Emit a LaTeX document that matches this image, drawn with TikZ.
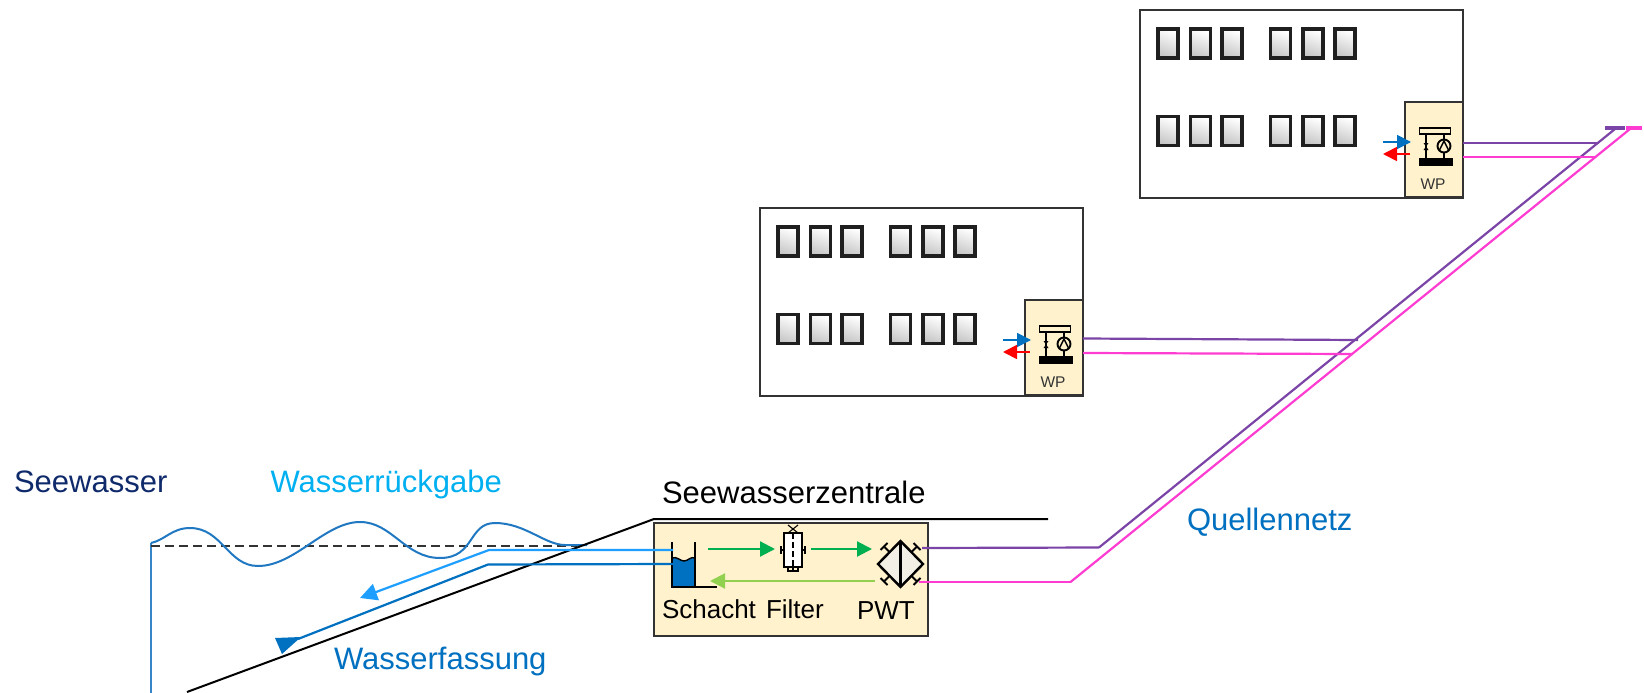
\documentclass[tikz,border=0pt]{standalone}
\usepackage{fontspec}
\setmainfont{Liberation Sans}
\usetikzlibrary{arrows.meta,shapes.geometric}
\definecolor{boxfill}{HTML}{FFF2CC}
\definecolor{edgegray}{HTML}{333333}
\definecolor{wavecol}{HTML}{1F78C1}
\definecolor{lightblue}{HTML}{1E9FFF}
\definecolor{intake}{HTML}{0070C0}
\definecolor{txtreturn}{HTML}{00B0F0}
\definecolor{navy}{HTML}{0F2A6B}
\definecolor{pipeviolet}{HTML}{7B45A8}
\definecolor{pipepink}{HTML}{FF3CD2}
\definecolor{greenA}{HTML}{00B050}
\definecolor{greenB}{HTML}{92D050}
\definecolor{pwtfill}{HTML}{F2EFE6}
\tikzset{
  bigtxt/.style={inner sep=0pt,outer sep=0pt,anchor=west,font=\fontsize{31}{31}\selectfont},
  smalltxt/.style={inner sep=0pt,outer sep=0pt,anchor=west,font=\fontsize{26}{26}\selectfont},
  bldg/.style={draw=edgegray,line width=2pt,fill=white,inner sep=0pt,outer sep=0pt,minimum width=323pt,minimum height=188pt},
  wpbox/.style={draw=edgegray,line width=2pt,fill=boxfill,inner sep=0pt,outer sep=0pt,minimum width=58pt,minimum height=95pt},
  win/.style={draw=black!88,line width=3.2pt,top color=white,bottom color=black!22,shading angle=-20,inner sep=0pt,outer sep=0pt,minimum width=20pt,minimum height=29pt},
  icon/.style={draw=black,line width=1.9pt},
  pipeV/.style={draw=pipeviolet,line width=2.2pt},
  pipeP/.style={draw=pipepink,line width=2.2pt},
  tipA/.style={-{Triangle[length=14pt,width=14pt]}},
  tipG/.style={-{Triangle[length=15pt,width=15pt]}},
}
% one building with its heat pump; #1 name suffix, #2 #3 offset
\newcommand{\housegroup}[3]{%
\begin{scope}[shift={(#2,#3)}]
  \node[bldg] (house#1) at (1301.5,104) {};
  \foreach \wx [count=\wi] in {1168,1200.5,1232,1280.5,1313,1345}{
    \node[win] (wa#1\wi) at (\wx,43.5) {};
    \node[win] (wb#1\wi) at (\wx,131) {};
  }
  \node[wpbox] (wp#1) at (1434,149.5) {};
  \coordinate (bl#1s) at (1383,142); \coordinate (bl#1e) at (1411,142);
  \coordinate (rd#1s) at (1410,154); \coordinate (rd#1e) at (1383,154);
  \draw[draw=intake,line width=1.8pt,tipA] (bl#1s) -- (bl#1e);
  \draw[draw=red,line width=1.8pt,tipA] (rd#1s) -- (rd#1e);
  \node[draw=black,line width=1.9pt,fill=boxfill,inner sep=0pt,outer sep=0pt,minimum width=31pt,minimum height=6pt] (wptop#1) at (1435,131) {};
  \node[fill=black,inner sep=0pt,outer sep=0pt,minimum width=34pt,minimum height=8.5pt] (wpbase#1) at (1435.5,162) {};
  \node[circle,draw=black,line width=1.9pt,inner sep=0pt,outer sep=0pt,minimum size=13pt] (wpcirc#1) at (1444,146) {};
  \draw[icon] (wptop#1.south -| wpcirc#1) -- (wpcirc#1.north);
  \draw[icon] (wpcirc#1.south) -- (wpbase#1.north -| wpcirc#1);
  \draw[draw=black,line width=1.4pt] (1439.5,150) -- (1444,141) -- (1448.5,150);
  \coordinate (vt#1) at (1426,134); \coordinate (vb#1) at (1426,158);
  \draw[icon] (vt#1) -- (vb#1);
  \fill[black] (1423.5,143) -- (1428.5,143) -- (1423.5,150) -- (1428.5,150) -- cycle;
  \node[inner sep=0pt,font=\fontsize{15.5}{15.5}\selectfont,text=black!80] (wplabel#1) at (1433,184) {WP};
\end{scope}}
\begin{document}
\begin{tikzpicture}[x=1pt,y=-1pt]
\useasboundingbox (0,0) rectangle (1644,693);
\fill[white] (0,0) rectangle (1644,693);

% pipes behind houses
\coordinate (vA) at (922,548); \coordinate (vB) at (1099,547.5); \coordinate (vC) at (1615,129);
\coordinate (pA) at (919,582); \coordinate (pB) at (1070.5,582); \coordinate (pC) at (1630,129);
\coordinate (vH) at (1358,340); \coordinate (pH) at (1352,354);
\coordinate (vT) at (1599,143); \coordinate (pT) at (1595,157);
\coordinate (vE1) at (1605,128); \coordinate (vE2) at (1625,128);
\coordinate (pE1) at (1626,128); \coordinate (pE2) at (1642,128);
\draw[pipeV] (vB) -- (vC);
\draw[pipeP] (pB) -- (pC);
\draw[pipeV,line width=4pt] (vE1) -- (vE2);
\draw[pipeP,line width=4pt] (pE1) -- (pE2);

\housegroup{a}{0}{0}
\housegroup{b}{-380}{198}

\coordinate (vaS) at (1463,143); \coordinate (paS) at (1463,157);
\coordinate (vbS) at (1083,338.5); \coordinate (pbS) at (1083,353);
\draw[pipeV] (vaS) -- (vT);
\draw[pipeP] (paS) -- (pT);
\draw[pipeV] (vbS) -- (vH);
\draw[pipeP] (pbS) -- (pH);

% sea
\coordinate (seaTop) at (151,543); \coordinate (seaBot) at (151,693);
\draw[draw=wavecol!90,line width=2pt] (seaTop) -- (seaBot);
\coordinate (dashS) at (151,546); \coordinate (dashE) at (577,546);
\draw[black!80,line width=1.2pt,dash pattern=on 9pt off 5pt] (dashS) -- (dashE);
\draw[wavecol,line width=2pt] (151,543) .. controls (165,540) and (172,528) .. (190,528)
  .. controls (222,528) and (228,566) .. (258,566)
  .. controls (295,566) and (325,522) .. (360,522)
  .. controls (392,522) and (405,558) .. (440,558)
  .. controls (475,558) and (468,523) .. (495,523)
  .. controls (525,523) and (545,545) .. (565,545)
  -- (587,545);

% shore
\coordinate (shoreA) at (187,692); \coordinate (shoreB) at (654,519); \coordinate (shoreC) at (1048,519);
\draw[black,line width=2pt] (shoreA) -- (shoreB) -- (shoreC);

% central station
\node[draw=edgegray,line width=2pt,fill=boxfill,inner sep=0pt,outer sep=0pt,minimum width=274pt,minimum height=113pt] (plant) at (791,579.5) {};

% shaft
\fill[intake] (672,558) .. controls (677,556) and (680,561) .. (684,561) .. controls (688,561) and (691,556) .. (695,558) -- (695,587) -- (672,587) -- cycle;
\coordinate (shL) at (672,542); \coordinate (shBL) at (672,587); \coordinate (shBR) at (717,587);
\coordinate (shR) at (695,542); \coordinate (shM) at (695,587);
\draw[black,line width=1.9pt] (shL) -- (shBL) -- (shBR);
\draw[black,line width=1.9pt] (shR) -- (shM);
\draw[black,line width=1.4pt] (672,558) .. controls (677,556) and (680,561) .. (684,561) .. controls (688,561) and (691,556) .. (695,558);

% intake and return lines
\coordinate (retS) at (673,550); \coordinate (retK) at (489,550); \coordinate (retE) at (360,598);
\draw[draw=lightblue,line width=2.2pt,-{Triangle[length=17pt,width=17pt]}] (retS) -- (retK) -- (retE);
\coordinate (inS) at (673,564); \coordinate (inK) at (488,564.5); \coordinate (inE) at (298,639);
\draw[draw=intake,line width=2.2pt] (inS) -- (inK) -- (inE);
\fill[intake] (275,638) -- (301,637) -- (282,654) -- cycle;

% filter
\node[draw=black,line width=1.1pt,fill=white,inner sep=0pt,outer sep=0pt,minimum width=18pt,minimum height=34pt] (filter) at (793,550) {};
\draw[black,line width=1.1pt,dash pattern=on 6pt off 3pt] (filter.north) -- (filter.south);
\draw[black,line width=1.1pt] (filter.west) -- ++(-3,0) ++(0,-4) -- ++(0,8);
\draw[black,line width=1.1pt] (filter.east) -- ++(3,0) ++(0,-4) -- ++(0,8);
\draw[black,line width=1.1pt] (788,525) -- (798,533) (798,525) -- (788,533);
\draw[black,line width=1.1pt] (filter.south) -- (793,570) (788,568) -- (788,571) -- (798,571) -- (798,568);

% heat exchanger
\node[diamond,aspect=1,draw=black,line width=2.4pt,fill=pwtfill,inner sep=0pt,outer sep=0pt,minimum width=45pt,minimum height=46pt] (pwt) at (900.5,564) {};
\draw[black,line width=2.4pt] (pwt.north) -- (pwt.south);
\foreach \sx/\sy in {-1/-1,1/-1,-1/1,1/1}{
  \draw[black,line width=1.9pt] (900.5+\sx*11,564+\sy*12) -- (900.5+\sx*16,564+\sy*17);
  \draw[black,line width=1.9pt] (900.5+\sx*20,564+\sy*14) -- (900.5+\sx*13,564+\sy*21);
}
% PWT pipes
\draw[pipeV] (vA) -- (vB);
\draw[pipeP] (pA) -- (pB);

% green flow arrows
\coordinate (g1s) at (708,549); \coordinate (g1e) at (775,549);
\coordinate (g2s) at (811,549); \coordinate (g2e) at (872,549);
\coordinate (g3s) at (875,581); \coordinate (g3e) at (710,581);
\draw[draw=greenA,line width=2.2pt,tipG] (g1s) -- (g1e);
\draw[draw=greenA,line width=2.2pt,tipG] (g2s) -- (g2e);
\draw[draw=greenB,line width=2.2pt,tipG] (g3s) -- (g3e);

% labels
\node[bigtxt,text=navy] (tsee) at (14,482) {Seewasser};
\node[bigtxt,text=txtreturn] (tret) at (270.5,484) {Wasserrückgabe};
\node[bigtxt,text=intake] (tfas) at (334,661) {Wasserfassung};
\node[bigtxt,text=black] (tzen) at (662,492) {Seewasserzentrale};
\node[bigtxt,text=intake] (tque) at (1187,522) {Quellennetz};
\node[smalltxt,text=black] (tsch) at (662,609) {Schacht};
\node[smalltxt,text=black] (tfil) at (766,609) {Filter};
\node[smalltxt,text=black] (tpwt) at (857,611) {PWT};
\end{tikzpicture}
\end{document}
